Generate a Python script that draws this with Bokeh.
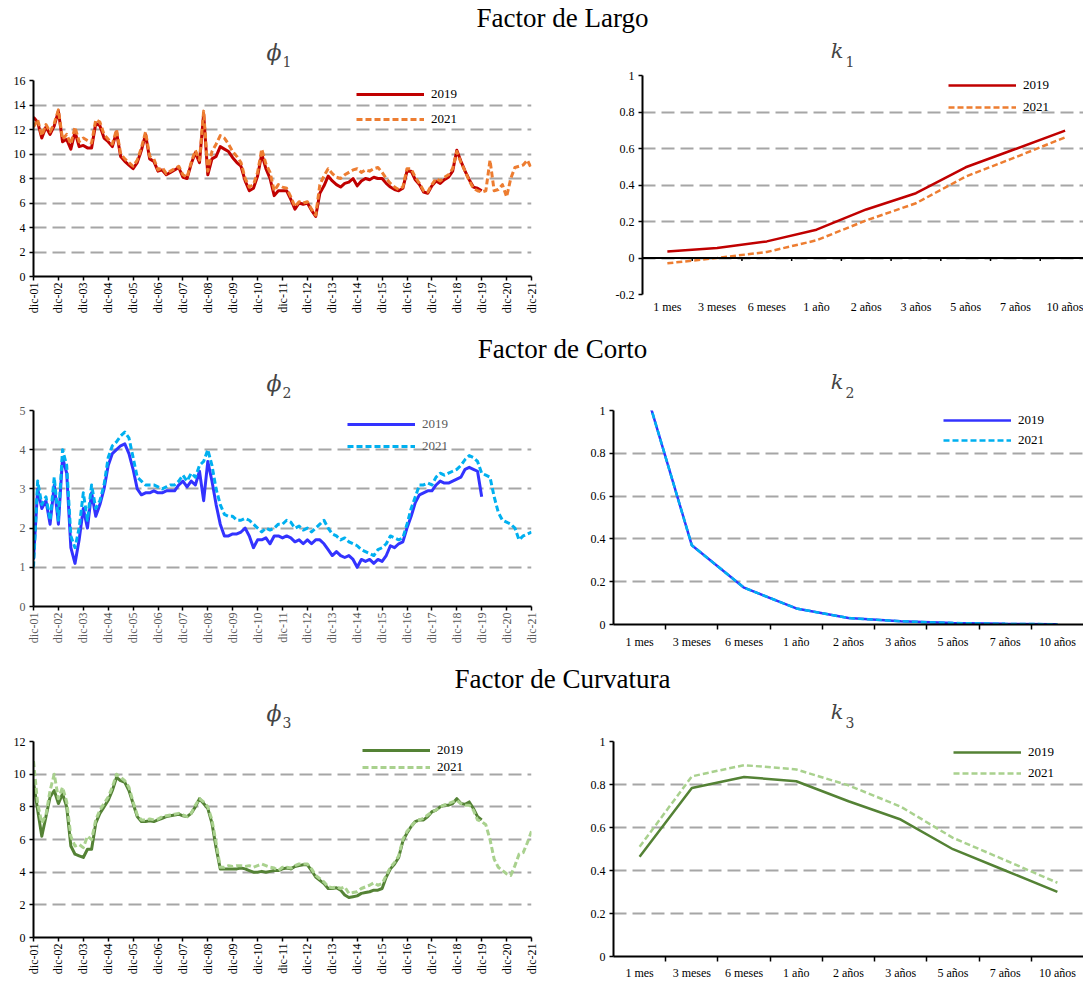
import math
from bokeh.plotting import figure
from bokeh.layouts import column, row
from bokeh.models import Range1d, FixedTicker, Legend, LegendItem, Span, Label
from bokeh.core.properties import value
from bokeh.embed import file_html
from bokeh.resources import INLINE

SERIF = "Liberation Serif"

# ---------------- data ----------------
DATE_TICK_LABELS = ["dic-01", "dic-02", "dic-03", "dic-04", "dic-05", "dic-06", "dic-07",
                    "dic-08", "dic-09", "dic-10", "dic-11", "dic-12", "dic-13", "dic-14",
                    "dic-15", "dic-16", "dic-17", "dic-18", "dic-19", "dic-20", "dic-21"]
MONTHS_PER_STEP = 2   # series sampled every two months, starting dic-01
MATURITIES = ["1 mes", "3 meses", "6 meses", "1 año", "2 años", "3 años", "5 años", "7 años", "10 años"]
SERIES = ["2019", "2021"]

PHI1_2019 = [13.0,
             12.6, 11.3, 12.2, 11.6, 12.3, 13.5,
             11.0, 11.2, 10.4, 11.8, 10.6, 10.7,
             10.5, 10.5, 12.5, 12.3, 11.3, 11.0,
             10.6, 11.8, 9.8, 9.4, 9.1, 8.8,
             9.3, 10.3, 11.6, 9.6, 9.4, 8.6,
             8.7, 8.3, 8.5, 8.7, 8.9, 8.1,
             8.0, 9.2, 10.1, 9.3, 13.3, 8.3,
             9.6, 9.8, 10.6, 10.4, 10.2, 9.7,
             9.3, 9.0, 7.8, 7.0, 7.2, 8.2,
             10.0, 8.8, 8.0, 6.6, 7.0, 7.0,
             7.0, 6.3, 5.5, 6.0, 5.9, 6.0,
             5.4, 4.9, 6.8, 7.4, 8.2, 7.8,
             7.5, 7.3, 7.6, 7.7, 8.0, 7.4,
             7.8, 8.0, 7.9, 8.1, 8.0, 8.0,
             7.6, 7.3, 7.1, 7.0, 7.2, 8.6,
             8.6, 7.9, 7.5, 6.9, 6.8, 7.4,
             7.8, 7.6, 7.9, 8.1, 8.6, 10.3,
             9.4, 8.6, 7.9, 7.3, 7.2, 7.0]
PHI1_2021 = [12.2,
             12.8, 11.5, 12.4, 11.8, 12.5, 13.6,
             11.2, 11.6, 10.8, 12.2, 11.0, 11.3,
             11.1, 10.9, 12.8, 12.6, 11.6, 11.2,
             10.8, 12.0, 10.0, 9.6, 9.3, 9.0,
             9.5, 10.5, 11.8, 9.8, 9.6, 8.7,
             8.9, 8.4, 8.6, 8.8, 9.0, 8.3,
             8.1, 9.3, 10.3, 9.5, 13.5, 8.6,
             10.2, 10.8, 11.5, 11.3, 10.8, 10.2,
             9.8, 9.3, 8.0, 7.3, 7.5, 8.5,
             10.4, 9.2, 8.5, 7.0, 7.5, 7.3,
             7.2, 6.5, 5.7, 6.1, 6.0, 6.1,
             5.5, 5.0, 7.5, 8.2, 8.8, 8.4,
             8.1, 8.0, 8.3, 8.5, 8.7, 8.8,
             8.5, 8.7, 8.6, 8.8, 8.9, 8.5,
             8.0, 7.6, 7.3, 7.1, 7.3, 8.8,
             8.8, 8.1, 7.6, 7.0, 6.9, 7.5,
             8.0, 7.8, 8.1, 8.3, 8.8, 10.2,
             9.3, 8.6, 7.8, 7.2, 7.0, 6.9,
             7.0, 9.5, 7.0, 7.1, 7.5, 6.5,
             8.0, 8.9, 9.0, 9.1, 9.5, 8.8]

PHI2_2019 = [1.2,
             3.0, 2.5, 2.7, 2.1, 3.1, 2.1,
             3.8, 3.4, 1.5, 1.1, 1.7, 2.5,
             2.0, 2.9, 2.3, 2.6, 3.0, 3.6,
             3.9, 4.0, 4.1, 4.15, 3.9, 3.5,
             3.0, 2.85, 2.9, 2.9, 2.95, 2.9,
             2.9, 2.95, 2.95, 2.95, 3.1, 3.2,
             3.05, 3.2, 3.1, 3.45, 2.7, 3.7,
             3.2, 2.6, 2.1, 1.8, 1.8, 1.85,
             1.85, 1.9, 2.0, 1.8, 1.5, 1.7,
             1.7, 1.75, 1.6, 1.8, 1.8, 1.75,
             1.8, 1.75, 1.65, 1.7, 1.6, 1.7,
             1.6, 1.7, 1.7, 1.6, 1.45, 1.3,
             1.4, 1.3, 1.25, 1.3, 1.2, 1.0,
             1.2, 1.15, 1.2, 1.1, 1.2, 1.15,
             1.3, 1.55, 1.5, 1.6, 1.65, 2.0,
             2.3, 2.65, 2.85, 2.9, 2.95, 2.95,
             3.1, 3.2, 3.15, 3.15, 3.2, 3.25,
             3.3, 3.5, 3.55, 3.5, 3.45, 2.8]
PHI2_2021 = [1.0,
             3.2, 2.6, 2.8, 2.2, 3.3, 2.2,
             4.0, 3.6, 1.8, 1.5, 2.0, 2.9,
             2.2, 3.1, 2.5, 2.7, 3.1, 3.8,
             4.1, 4.2, 4.35, 4.45, 4.3, 3.8,
             3.3, 3.2, 3.1, 3.1, 3.1, 3.05,
             3.0, 3.05, 3.1, 3.1, 3.2, 3.35,
             3.2, 3.4, 3.3, 3.6, 3.7, 4.0,
             3.6, 3.0, 2.6, 2.35, 2.3, 2.3,
             2.2, 2.2, 2.25, 2.2, 2.1, 2.0,
             1.9, 2.0, 1.95, 2.0, 2.1, 2.1,
             2.2, 2.15, 2.0, 2.05, 1.95, 2.0,
             1.9, 2.0, 2.1, 2.2, 2.0, 1.85,
             1.8, 1.7, 1.75, 1.65, 1.6, 1.55,
             1.45, 1.4, 1.35, 1.3, 1.45, 1.5,
             1.6, 1.8, 1.75, 1.7, 1.75, 2.1,
             2.5, 2.8, 3.1, 3.1, 3.15, 3.1,
             3.3, 3.4, 3.35, 3.4, 3.45, 3.5,
             3.6, 3.75, 3.85, 3.8, 3.7, 3.4,
             3.35, 3.3, 2.8, 2.4, 2.2, 2.15,
             2.1, 2.0, 1.7, 1.8, 1.85, 1.9]

PHI3_2019 = [9.5,
             7.8, 6.2, 7.4, 8.6, 9.0, 8.2,
             8.8, 8.0, 5.6, 5.1, 5.0, 4.9,
             5.4, 5.4, 7.0, 7.6, 8.0, 8.4,
             9.0, 9.8, 9.6, 9.5, 9.0, 8.2,
             7.4, 7.1, 7.1, 7.15, 7.1, 7.2,
             7.3, 7.4, 7.45, 7.5, 7.55, 7.45,
             7.4, 7.6, 8.0, 8.5, 8.2, 7.9,
             7.0, 5.5, 4.2, 4.2, 4.2, 4.2,
             4.2, 4.25, 4.2, 4.1, 4.0, 4.0,
             4.05, 4.0, 4.05, 4.1, 4.1, 4.2,
             4.25, 4.2, 4.35, 4.4, 4.45, 4.45,
             4.1, 3.7, 3.5, 3.3, 3.0, 3.0,
             3.05, 2.9, 2.6, 2.45, 2.5, 2.55,
             2.7, 2.75, 2.8, 2.9, 2.9, 3.0,
             3.7, 4.2, 4.5, 4.9, 5.9, 6.4,
             6.8, 7.1, 7.2, 7.2, 7.4, 7.7,
             7.8, 8.0, 8.1, 8.1, 8.2, 8.5,
             8.2, 8.15, 8.3, 7.9, 7.4, 7.2]
PHI3_2021 = [10.8,
             8.2, 7.0, 7.5, 9.0, 10.0, 8.5,
             9.2, 8.3, 6.2, 5.6, 5.7, 5.5,
             6.2, 6.0, 7.2, 7.8, 8.2, 8.6,
             9.2, 10.0, 9.8, 9.6, 9.2, 8.3,
             7.5, 7.2, 7.2, 7.25, 7.2, 7.25,
             7.4, 7.45, 7.5, 7.55, 7.6, 7.5,
             7.4, 7.6, 8.1, 8.5, 8.3, 8.0,
             7.2, 5.8, 4.3, 4.3, 4.4, 4.35,
             4.4, 4.4, 4.35, 4.4, 4.3, 4.4,
             4.5, 4.4, 4.3, 4.25, 4.1, 4.3,
             4.3, 4.25, 4.4, 4.5, 4.5, 4.5,
             4.2, 3.8, 3.6, 3.4, 3.1, 3.05,
             3.1, 3.0, 3.1, 2.7, 2.75, 2.8,
             3.0, 3.1, 3.2, 3.35, 3.2, 3.3,
             3.8, 4.3, 4.6, 5.0, 6.0, 6.5,
             6.8, 7.1, 7.2, 7.3, 7.5, 7.7,
             7.8, 8.0, 8.1, 8.2, 8.3, 8.4,
             8.2, 8.1, 8.1, 7.8, 7.2, 7.1,
             6.9, 6.0, 4.8, 4.3, 4.1, 3.9,
             3.8, 4.4, 5.1, 5.2, 5.8, 6.5]

K1_2019 = [0.036, 0.055, 0.091, 0.155, 0.266, 0.355, 0.497, 0.597, 0.698]
K1_2021 = [-0.029, 0.0, 0.033, 0.097, 0.206, 0.300, 0.446, 0.552, 0.661]
K2_2019 = [1.19, 0.37, 0.172, 0.075, 0.030, 0.015, 0.007, 0.003, 0.001]
K2_2021 = [1.19, 0.37, 0.172, 0.075, 0.030, 0.015, 0.007, 0.003, 0.001]
K3_2019 = [0.464, 0.784, 0.835, 0.815, 0.722, 0.637, 0.499, 0.400, 0.301]
K3_2021 = [0.510, 0.838, 0.890, 0.870, 0.796, 0.697, 0.552, 0.448, 0.343]

PHI1_TICKS = [0, 2, 4, 6, 8, 10, 12, 14, 16]
PHI2_TICKS = [0, 1, 2, 3, 4, 5]
PHI3_TICKS = [0, 2, 4, 6, 8, 10, 12]
K1_TICKS = [-0.2, 0, 0.2, 0.4, 0.6, 0.8, 1]
K_TICKS = [0, 0.2, 0.4, 0.6, 0.8, 1]

RED, ORANGE = "#C00000", "#ED7D31"
BLUE, LBLUE = "#3333FF", "#00B0F0"
GREEN, LGREEN = "#548235", "#A9D18E"
GRID = "#A6A6A6"


def fmt(v):
    return "%g" % v


def base_style(p, label_color):
    p.outline_line_color = None
    p.xgrid.visible = False
    p.ygrid.grid_line_color = GRID
    p.ygrid.grid_line_width = 2
    p.ygrid.grid_line_dash = "13 6"
    for ax in (p.xaxis[0], p.yaxis[0]):
        ax.axis_line_color = "black"
        ax.axis_line_width = 2
        ax.major_tick_line_color = "black"
        ax.major_tick_line_width = 1.5
        ax.minor_tick_line_color = None
        ax.major_label_text_font = SERIF
        ax.major_label_text_font_size = "12px"
        ax.major_label_text_color = label_color
    p.yaxis.major_tick_in = 0
    p.yaxis.major_tick_out = 4
    p.yaxis.major_label_standoff = 4


def add_legend(p, r19, r21, loc, item_h, gap, label_color):
    lg = Legend(items=[LegendItem(label=value(SERIES[0]), renderers=[r19]),
                       LegendItem(label=value(SERIES[1]), renderers=[r21])],
                location=loc, orientation="vertical", padding=0, margin=0, spacing=gap,
                glyph_width=68, glyph_height=item_h, label_height=item_h, label_standoff=7,
                label_text_font=SERIF, label_text_font_size="13px", label_text_color=label_color,
                label_text_baseline="middle",
                background_fill_alpha=0, border_line_alpha=0)
    p.add_layout(lg)


def ts_panel(v19, v21, c19, c21, yticks, b_top, b_bot, loc, item_h, gap, label_color="black"):
    frame_h = 196
    n_months = 12 * (len(DATE_TICK_LABELS) - 1)
    p = figure(width=560, height=b_top + frame_h + b_bot, output_backend="svg", toolbar_location=None,
               x_range=Range1d(0, n_months), y_range=Range1d(yticks[0], yticks[-1]),
               min_border_left=33, min_border_right=29, min_border_top=b_top, min_border_bottom=b_bot)
    base_style(p, label_color)
    xt = [12 * i for i in range(len(DATE_TICK_LABELS))]
    p.xaxis.ticker = FixedTicker(ticks=xt)
    p.xaxis.major_label_overrides = {t: lab for t, lab in zip(xt, DATE_TICK_LABELS)}
    p.xaxis.major_label_orientation = math.pi / 2
    p.xaxis.major_tick_in = 0
    p.xaxis.major_tick_out = 4
    p.xaxis.major_label_standoff = 2
    p.yaxis.ticker = FixedTicker(ticks=yticks)
    p.ygrid.ticker = FixedTicker(ticks=yticks)
    p.yaxis.major_label_overrides = {t: fmt(t) for t in yticks}
    x19 = [MONTHS_PER_STEP * i for i in range(len(v19))]
    x21 = [MONTHS_PER_STEP * i for i in range(len(v21))]
    r19 = p.line(x19, v19, line_color=c19, line_width=3, line_join="round")
    r21 = p.line(x21, v21, line_color=c21, line_width=3, line_dash="6 3", line_join="round")
    add_legend(p, r19, r21, loc, item_h, gap, label_color)
    return p


def k_panel(v19, v21, c19, c21, yticks, b_left, b_top, frame_h, b_bot, x_end, standoff,
            loc, item_h, gap, zero_cross=False):
    p = figure(width=523, height=b_top + frame_h + b_bot, output_backend="svg", toolbar_location=None,
               x_range=Range1d(0, x_end), y_range=Range1d(yticks[0], yticks[-1]),
               min_border_left=b_left, min_border_right=0, min_border_top=b_top, min_border_bottom=b_bot)
    base_style(p, "black")
    n = len(MATURITIES)
    centers = [i + 0.5 for i in range(n)]
    bounds = [float(i) for i in range(1, n)]
    p.xaxis.ticker = FixedTicker(ticks=centers, minor_ticks=bounds)
    p.xaxis.major_label_overrides = {c: lab for c, lab in zip(centers, MATURITIES)}
    p.xaxis.major_tick_line_color = None
    p.xaxis.major_tick_in = 0
    p.xaxis.major_tick_out = 0
    p.xaxis.major_label_standoff = standoff
    p.yaxis.ticker = FixedTicker(ticks=yticks)
    p.ygrid.ticker = FixedTicker(ticks=yticks)
    p.yaxis.major_label_overrides = {t: fmt(t) for t in yticks}
    if zero_cross:
        p.xaxis.axis_line_color = None
        p.xaxis.minor_tick_in = 0
        p.xaxis.minor_tick_out = 0
        p.add_layout(Span(location=0, dimension="width", line_color="black", line_width=2))
        p.segment(x0=bounds, y0=[0] * len(bounds), x1=bounds, y1=[-0.016] * len(bounds),
                  line_color="black", line_width=1.5)
    else:
        p.xaxis.minor_tick_line_color = "black"
        p.xaxis.minor_tick_line_width = 1.5
        p.xaxis.minor_tick_in = 0
        p.xaxis.minor_tick_out = 5
    r19 = p.line(centers, v19, line_color=c19, line_width=2.5)
    r21 = p.line(centers, v21, line_color=c21, line_width=2.5, line_dash="6 3")
    add_legend(p, r19, r21, loc, item_h, gap, "black")
    return p


def header(h, title, title_mid, sub, sym_mid, sub_mid):
    p = figure(width=1083, height=h, x_range=Range1d(0, 1083), y_range=Range1d(h, 0),
               output_backend="svg", toolbar_location=None, min_border=0)
    p.axis.visible = False
    p.grid.visible = False
    p.outline_line_color = None
    p.add_layout(Label(x=562, y=title_mid, text=title, text_align="center", text_baseline="middle",
                       text_font=SERIF, text_font_size="27px", text_color="black"))
    p.add_layout(Label(x=281, y=sym_mid, text="\u03d5", text_align="right", text_baseline="middle",
                       text_font="DejaVu Serif", text_font_style="italic", text_font_size="22px"))
    p.add_layout(Label(x=282, y=sub_mid, text=sub, text_align="left", text_baseline="middle",
                       text_font="DejaVu Serif", text_font_size="14px"))
    p.add_layout(Label(x=843, y=sym_mid - 2, text="k", text_align="right", text_baseline="middle",
                       text_font="DejaVu Serif", text_font_style="italic", text_font_size="21px"))
    p.add_layout(Label(x=845, y=sub_mid, text=sub, text_align="left", text_baseline="middle",
                       text_font="DejaVu Serif", text_font_size="14px"))
    return p


# row 1: left frame 80..276, right frame 75..294
h1 = header(70, "Factor de Largo", 17, "1", 52, 61)
l1 = ts_panel(PHI1_2019, PHI1_2021, RED, ORANGE, PHI1_TICKS, 10, 59, (323, 147), 20, 5)
r1 = k_panel(K1_2019, K1_2021, RED, ORANGE, K1_TICKS, 82, 5, 219, 41, 8.87, 5,
             (306, 178), 18, 4, zero_cross=True)

# row 2: left frame 410..606, right frame 410..624
h2 = header(65, "Factor de Corto", 13, "2", 48, 57)
l2 = ts_panel(PHI2_2019, PHI2_2021, BLUE, LBLUE, PHI2_TICKS, 10, 56, (314, 151), 18, 4, "#595959")
r2 = k_panel(K2_2019, K2_2021, BLUE, LBLUE, K_TICKS, 53, 10, 214, 38, 9.0, 5,
             (330, 175), 18, 2)

# row 3: left frame 741..937, right frame 741..957
h3 = header(69, "Factor de Curvatura", 16, "3", 51, 60)
l3 = ts_panel(PHI3_2019, PHI3_2021, GREEN, LGREEN, PHI3_TICKS, 10, 45, (329, 162), 16, 1)
r3 = k_panel(K3_2019, K3_2021, GREEN, LGREEN, K_TICKS, 53, 10, 216, 25, 9.0, 4,
             (340, 174), 18, 3)

# each chart sits in its own column so that its frame keeps its own borders
layout = column(h1, row(column(l1), column(r1)), h2, row(column(l2), column(r2)),
                h3, row(column(l3), column(r3)))
open("out.html", "w").write(file_html(layout, INLINE))
